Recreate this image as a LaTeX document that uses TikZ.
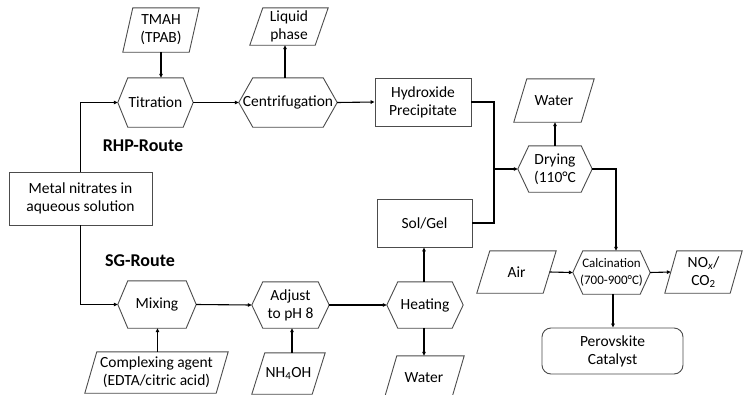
\documentclass[tikz,border=0pt]{standalone}
\usepackage{fontspec}
\setmainfont{Carlito}
\usetikzlibrary{arrows.meta,calc}
\tikzset{
  box/.style={draw=black!70, line width=0.9pt, minimum width=#1, inner sep=0pt, align=center, font=\fontsize{15.5}{18}\selectfont},
  shp/.style={draw=none, inner sep=0pt, align=center, font=\fontsize{15.5}{18}\selectfont},
  shapeline/.style={draw=black!70, line width=0.9pt, line join=miter},
  conn/.style={line width=1.1pt, draw=black},
  arr/.style={conn, -{Triangle[length=4pt,width=3.5pt]}},
  route/.style={font=\fontsize{18}{20}\selectfont\bfseries},
}
\newcommand\hexa[2]{\draw[shapeline] (#1.west) -- ([xshift=#2]#1.north west) -- ([xshift=-#2]#1.north east) -- (#1.east) -- ([xshift=-#2]#1.south east) -- ([xshift=#2]#1.south west) -- cycle;}
\newcommand\para[2]{\draw[shapeline] ([xshift=#2]#1.north west) -- (#1.north east) -- ([xshift=-#2]#1.south east) -- (#1.south west) -- cycle;}
\begin{document}
\begin{tikzpicture}[x=1pt,y=-1pt]
\clip (0,0) rectangle (750,394);
\fill[white] (0,0) rectangle (750,394);
% parallelograms
\node[shp, minimum width=76pt, minimum height=44pt] (tmah) at (161,30) {TMAH\\(TPAB)};
\node[shp, minimum width=78pt, minimum height=37pt] (liquid) at (289,26.5) {Liquid\\phase};
\node[shp, minimum width=80pt, minimum height=43pt] (water1) at (554,100.5) {Water};
\node[shp, minimum width=79pt, minimum height=42pt] (air) at (516.5,272) {Air};
\node[shp, minimum width=77pt, minimum height=42pt] (nox) at (703.5,272) {NO\textsubscript{\textit{x}}/\\CO\textsubscript{2}};
\node[shp, minimum width=143pt, minimum height=41pt] (complex) at (156.5,372.5) {Complexing agent\\(EDTA/citric acid)};
\node[shp, minimum width=73pt, minimum height=41pt] (nh4oh) at (288.5,373.5) {NH\textsubscript{4}OH};
\node[shp, minimum width=80pt, minimum height=44pt] (water2) at (424,378) {Water};
\para{tmah}{10pt}
\para{liquid}{13pt}
\para{water1}{13pt}
\para{air}{13pt}
\para{nox}{12pt}
\para{complex}{12pt}
\para{nh4oh}{13pt}
\para{water2}{13pt}
% hexagons
\node[shp, minimum width=75pt, minimum height=49pt] (titration) at (155.5,102.5) {Titration};
\node[shp, minimum width=98pt, minimum height=49pt] (centrif) at (288,102.5) {Centrifugation};
\node[shp, minimum width=74pt, minimum height=46pt] (drying) at (555,169) {Drying\\(110°C};
\node[shp, minimum width=76pt, minimum height=46pt] (heating) at (425,305) {Heating};
\node[shp, minimum width=77pt, minimum height=43pt, font=\fontsize{13}{17}\selectfont] (calc) at (611.5,272.5) {Calcination\\(700-900°C)};
\node[shp, minimum width=78pt, minimum height=47pt] (mixing) at (157,304.5) {Mixing};
\node[shp, minimum width=77pt, minimum height=46pt] (adjust) at (290.5,305) {Adjust\\to pH 8};
\hexa{titration}{10pt}
\hexa{centrif}{14pt}
\hexa{drying}{11pt}
\hexa{heating}{11pt}
\hexa{calc}{10pt}
\hexa{mixing}{10pt}
\hexa{adjust}{11pt}
% rectangles
\node[box=96pt, minimum height=48pt] (hydrox) at (423,102) {Hydroxide\\Precipitate};
\node[box=143pt, minimum height=53pt] (metal) at (80.5,198.5) {Metal nitrates in\\aqueous solution};
\node[box=95pt, minimum height=48pt] (solgel) at (424.5,223) {Sol/Gel};
\node[box=141pt, minimum height=46pt, rounded corners=9pt] (perov) at (612.5,351) {Perovskite\\Catalyst};
% route labels
\node[route] (rhp) at (143,146) {RHP-Route};
\node[route] (sg) at (140,261) {SG-Route};
% connectors
\coordinate (j) at (494,169);
\draw[arr] (tmah.south) -- (tmah.south |- titration.north);
\draw[arr] (metal.north) |- (titration.west);
\draw[arr] (metal.south) |- (mixing.west);
\draw[arr] (titration.east) -- (centrif.west);
\draw[arr] ([xshift=-3pt]centrif.north) -- ([xshift=-3pt]centrif.north |- liquid.south);
\draw[arr] (centrif.east) -- (hydrox.west);
\draw[conn] (hydrox.east) -| (j);
\draw[conn] (solgel.east) -| (j);
\draw[arr] (j) -- (drying.west);
\draw[arr] (drying.north) -- (drying.north |- water1.south);
\draw[arr] (drying.east) -| ([xshift=4.5pt]calc.north);
\draw[arr] (mixing.east) -- (adjust.west);
\draw[arr] (adjust.east) -- (heating.west);
\draw[arr] ([xshift=1pt]complex.north) -- ([xshift=1pt]complex.north |- mixing.south);
\draw[arr] ([xshift=3.5pt]nh4oh.north) -- ([xshift=3.5pt]nh4oh.north |- adjust.south);
\draw[arr] ([xshift=-1pt]heating.north) -- ([xshift=-1pt]heating.north |- solgel.south);
\draw[arr] ([xshift=-1pt]heating.south) -- ([xshift=-1pt]heating.south |- water2.north);
\draw[arr] ([xshift=-6.5pt]air.east) -- (calc.west);
\draw[arr] (calc.east) -- ([xshift=6pt]nox.west);
\draw[arr] ([xshift=1.5pt]calc.south) -- ([xshift=1.5pt]calc.south |- perov.north);
\end{tikzpicture}
\end{document}
